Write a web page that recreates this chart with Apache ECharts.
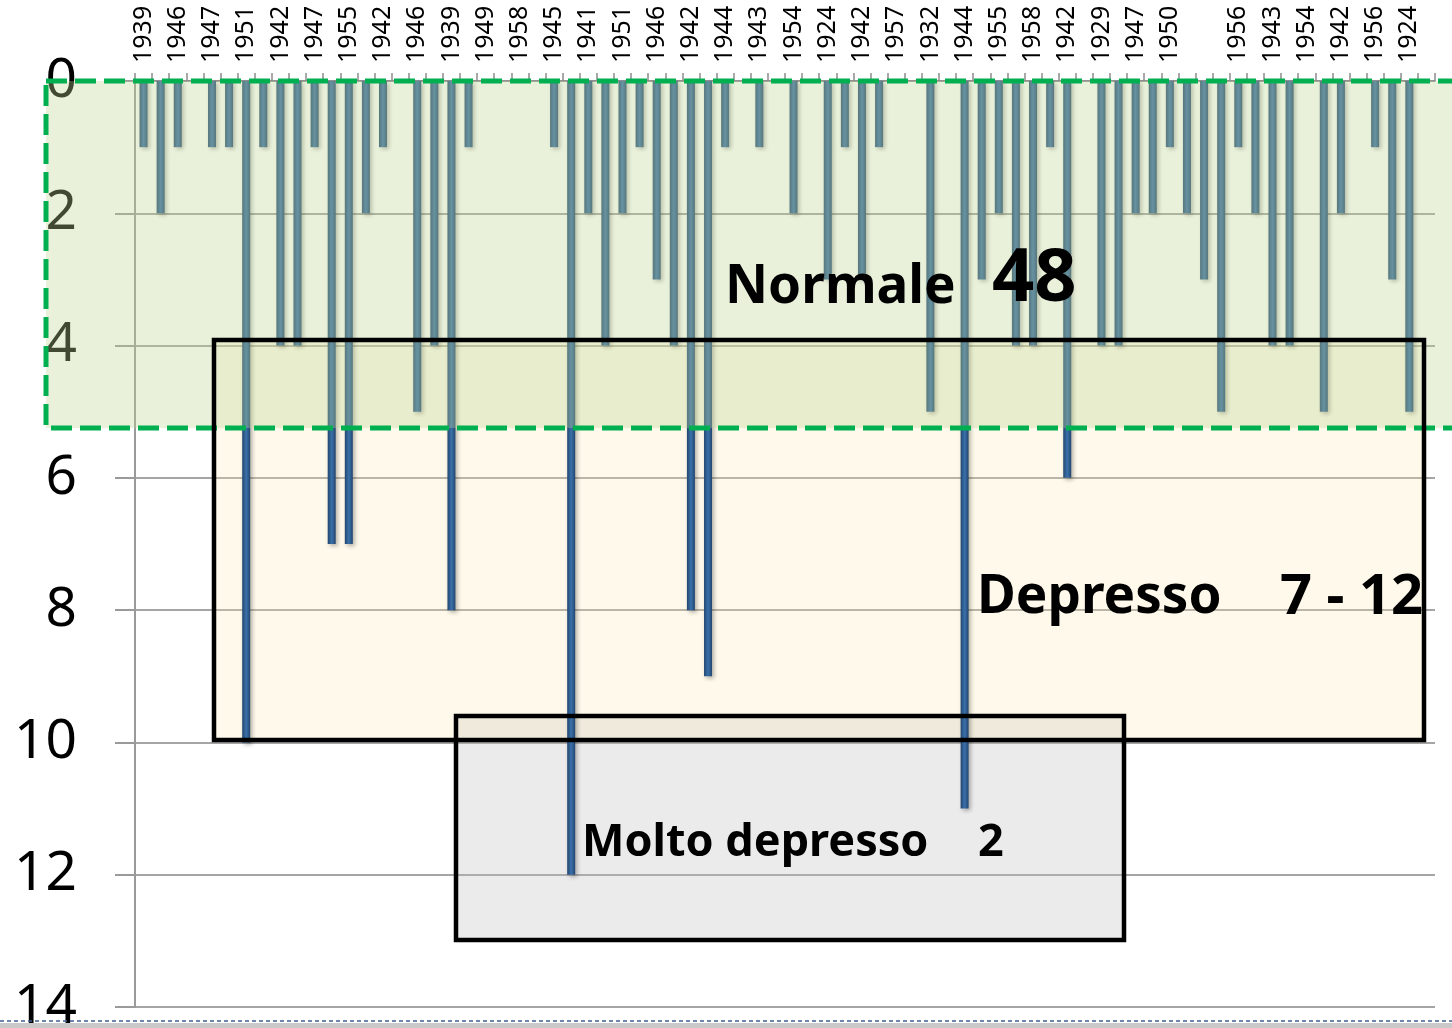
<!DOCTYPE html>
<html>
<head>
<meta charset="utf-8">
<script src="https://cdn.jsdelivr.net/npm/echarts@6/dist/echarts.min.js"></script>
<style>
html,body{margin:0;padding:0;background:#fff;}
#main{width:1452px;height:1028px;}
</style>
</head>
<body>
<div id="main"></div>
<script>
//categorie (anni), solo quelli pari sono leggibili
var anni = [
    '1939','','1946','','1947','','1951','','1942','',
    '1947','','1955','','1942','','1946','','1939','',
    '1949','','1958','','1945','','1941','','1951','',
    '1946','','1942','','1944','','1943','','1954','',
    '1924','','1942','','1957','','1932','','1944','',
    '1955','','1958','','1942','','1929','','1947','',
    '1950','','','','1956','','1943','','1954','',
    '1942','','1956','','1924',''
];
//punteggi
var punteggi = [
    1,2,1,0,1,1,10,1,4,4,
    1,7,7,2,1,0,5,4,8,1,
    0,0,0,0,1,12,2,4,2,1,
    3,4,8,9,1,0,1,0,2,0,
    3,1,3,1,0,0,5,0,11,3,
    2,4,4,1,6,0,4,4,2,2,
    1,2,3,5,1,2,4,4,0,5,
    2,0,1,3,5,0
];
//etichette asse y
var tickY = [0,2,4,6,8,10,12,14];

var myChart = echarts.init(document.getElementById('main'));
var font = 'Noto Sans';

var option = {
    animation:false,
    grid:{
        left:135,
        right:17,
        top:81,
        bottom:21,
        outerBoundsMode:'none',
        containLabel:false
    },
    xAxis:{
        type:'category',
        position:'top',
        data:anni,
        boundaryGap:true,
        axisLine:{lineStyle:{color:'#8c8c8c',width:1.5}},
        axisTick:{show:true,interval:0,length:8,lineStyle:{color:'#8c8c8c',width:1.5}},
        axisLabel:{
            interval:1,
            rotate:90,
            margin:18,
            fontSize:25,
            fontFamily:font,
            color:'#000'
        },
        splitLine:{show:false}
    },
    yAxis:{
        type:'value',
        inverse:true,
        min:tickY[0],
        max:tickY[tickY.length-1],
        interval:2,
        axisLine:{show:true,lineStyle:{color:'#9a9a9a',width:2}},
        axisTick:{show:true,length:20,lineStyle:{color:'#9a9a9a',width:2}},
        axisLabel:{
            margin:58,
            fontSize:55,
            fontFamily:font,
            color:'#000'
        },
        splitLine:{show:true,lineStyle:{color:'#a5a5a5',width:2}}
    },
    series:[
        {
            type:'bar',
            data:punteggi,
            barWidth:8,
            z:2,
            itemStyle:{
                color:new echarts.graphic.LinearGradient(0,0,1,0,[
                    {offset:0,color:'#22466f'},
                    {offset:0.5,color:'#3a70aa'},
                    {offset:1,color:'#22466f'}
                ]),
                shadowBlur:4,
                shadowOffsetX:2,
                shadowOffsetY:2,
                shadowColor:'rgba(0,0,0,0.3)'
            }
        }
    ],
    graphic:[
        //riquadro molto depresso (sfondo)
        {type:'rect',z:1,shape:{x:456,y:716,width:668,height:224},
            style:{fill:'rgba(190,190,190,0.3)'}},
        //riquadro depresso (sfondo)
        {type:'rect',z:1,shape:{x:214,y:340,width:1210,height:400},
            style:{fill:'rgba(250,232,170,0.25)'}},
        //zona normale
        {type:'rect',z:10,shape:{x:46,y:81,width:1420,height:347},
            style:{fill:'rgba(190,214,150,0.34)',stroke:'#00b050',lineWidth:5,lineDash:[21,8]}},
        //bordi
        {type:'rect',z:11,shape:{x:214,y:340,width:1210,height:400},
            style:{fill:null,stroke:'#000',lineWidth:4.5}},
        {type:'rect',z:11,shape:{x:456,y:716,width:668,height:224},
            style:{fill:null,stroke:'#000',lineWidth:4.5}},
        //testi
        {type:'text',z:12,style:{x:725,y:288,text:'Normale',font:'bold 53px "Noto Sans"',fill:'#000',verticalAlign:'middle'}},
        {type:'text',z:12,style:{x:992,y:280,text:'48',font:'bold 74px "Noto Sans"',fill:'#000',verticalAlign:'middle'}},
        {type:'text',z:12,style:{x:977,y:598,text:'Depresso',font:'bold 53px "Noto Sans"',fill:'#000',verticalAlign:'middle'}},
        {type:'text',z:12,style:{x:1280,y:598,text:'7 - 12',font:'bold 56px "Noto Sans"',fill:'#000',verticalAlign:'middle'}},
        {type:'text',z:12,style:{x:582,y:843,text:'Molto depresso',font:'bold 45px "Noto Sans"',fill:'#000',verticalAlign:'middle'}},
        {type:'text',z:12,style:{x:978,y:843,text:'2',font:'bold 45px "Noto Sans"',fill:'#000',verticalAlign:'middle'}},
        //bordo in basso
        {type:'rect',z:12,shape:{x:0,y:1023,width:1452,height:5},style:{fill:'#c9c9c9'}},
        {type:'line',z:12,shape:{x1:0,y1:1021,x2:1452,y2:1021},
            style:{stroke:'#3d5f91',lineWidth:1.5,lineDash:[4,3]}}
    ]
};
myChart.setOption(option);
</script>
</body>
</html>
